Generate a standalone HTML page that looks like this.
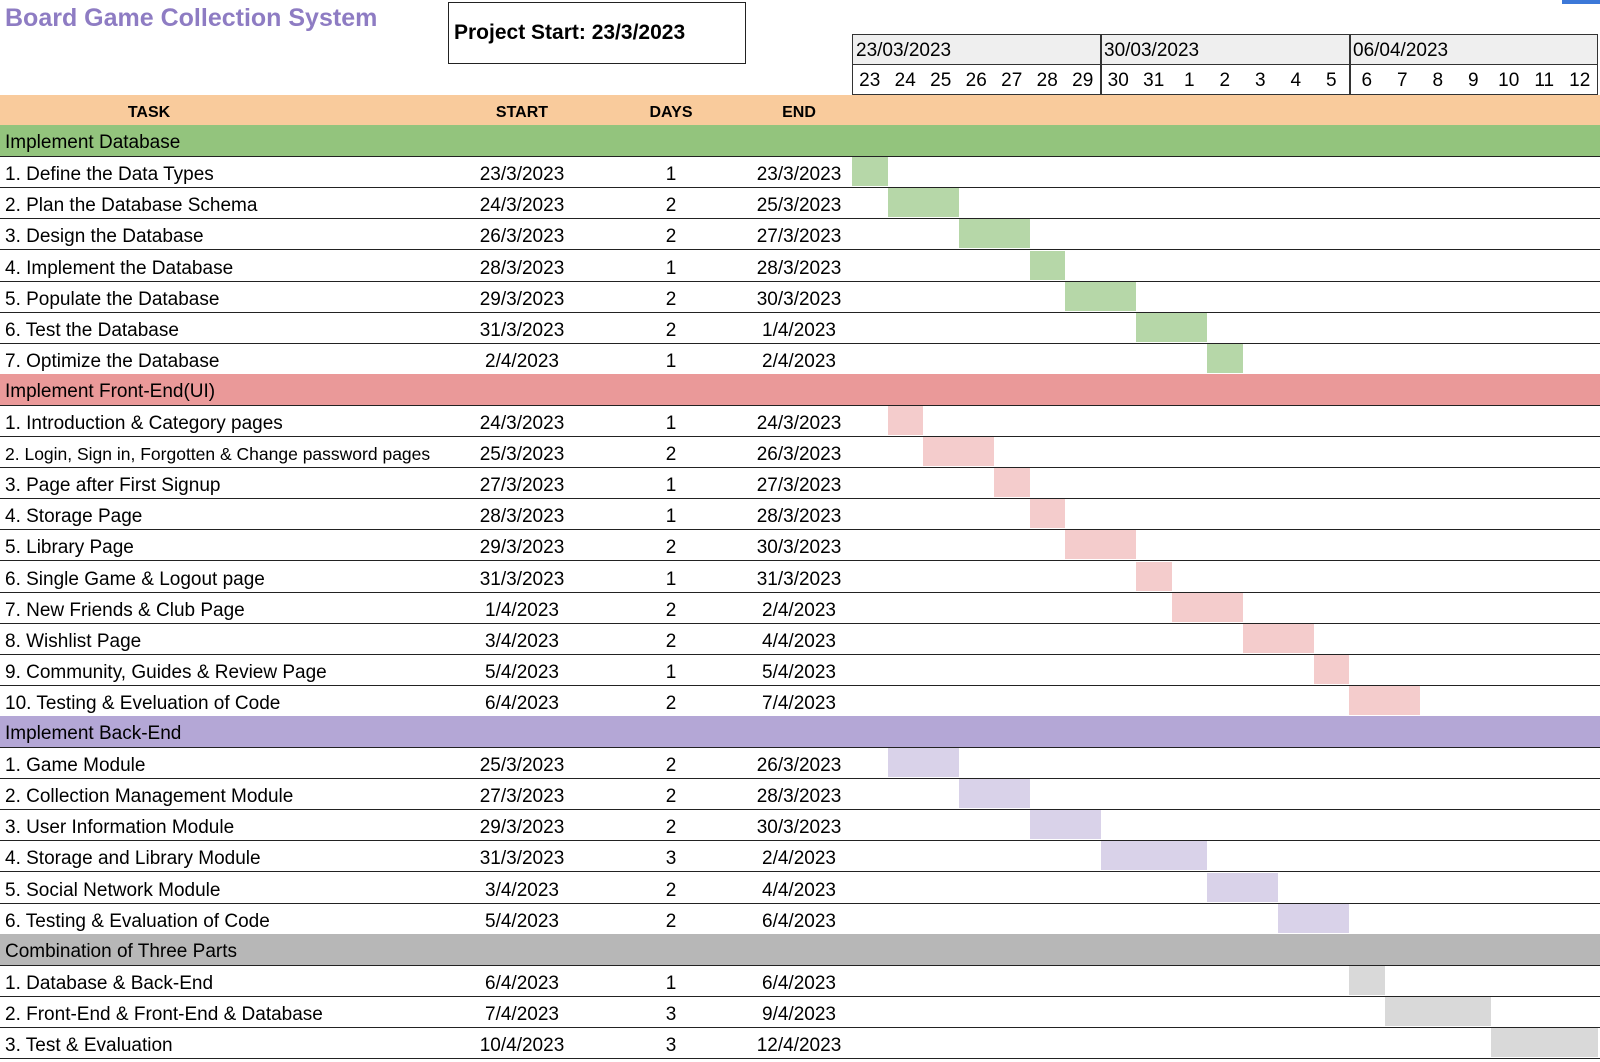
<!DOCTYPE html>
<html><head><meta charset="utf-8"><style>
body{margin:0;width:1600px;height:1062px;background:#fff;position:relative;overflow:hidden;font-family:"Liberation Sans",Arial,sans-serif;color:#000}
.a{position:absolute}
.row{position:absolute;left:0;width:1600px;height:31px;border-bottom:1.5px solid #222;box-sizing:border-box}
.t{position:absolute;top:2px;line-height:31px;font-size:19px;white-space:nowrap}
.c{text-align:center;width:160px}
.bar{position:absolute;top:0;height:29px}
.dn{position:absolute;height:30px;line-height:30px;font-size:19px;text-align:center;width:35.5px}
</style></head><body>
<div class="a" style="left:5px;top:4px;font-size:25px;font-weight:bold;color:#8e7cc3">Board Game Collection System</div>
<div class="a" style="left:448px;top:2px;width:298px;height:62px;border:1.5px solid #222;box-sizing:border-box;font-size:21px;font-weight:bold;line-height:60px;padding-left:5px">Project Start: 23/3/2023</div>
<div class="a" style="left:1562px;top:0;width:38px;height:4px;background:#3c78d8"></div>
<div class="a" style="left:852px;top:34px;width:746px;height:61px;border:1.5px solid #333;box-sizing:border-box"></div>
<div class="a" style="left:853px;top:35px;width:744px;height:29px;background:#efefef;border-bottom:1.5px solid #333"></div>
<div class="a" style="left:1100px;top:34px;width:1.5px;height:61px;background:#333"></div>
<div class="a" style="left:1349px;top:34px;width:1.5px;height:61px;background:#333"></div>
<div class="a" style="left:856px;top:37px;line-height:28px;font-size:19px">23/03/2023</div>
<div class="a" style="left:1104px;top:37px;line-height:28px;font-size:19px">30/03/2023</div>
<div class="a" style="left:1353px;top:37px;line-height:28px;font-size:19px">06/04/2023</div>
<div id="days"></div>
<div id="rows"></div>
<script>
var d=[23,24,25,26,27,28,29,30,31,1,2,3,4,5,6,7,8,9,10,11,12],h='';
d.forEach(function(v,i){h+='<div class="dn" style="left:'+(852+i*35.5)+'px;top:66px">'+v+'</div>';});
document.getElementById('days').innerHTML=h;
var S=[
["Implement Database","#93c47d","#b6d7a8",[
["1. Define the Data Types","23/3/2023",1,"23/3/2023",0],
["2. Plan the Database Schema","24/3/2023",2,"25/3/2023",1],
["3. Design the Database","26/3/2023",2,"27/3/2023",3],
["4. Implement the Database","28/3/2023",1,"28/3/2023",5],
["5. Populate the Database","29/3/2023",2,"30/3/2023",6],
["6. Test the Database","31/3/2023",2,"1/4/2023",8],
["7. Optimize the Database","2/4/2023",1,"2/4/2023",10]]],
["Implement Front-End(UI)","#ea9999","#f4cccc",[
["1. Introduction &amp; Category pages","24/3/2023",1,"24/3/2023",1],
["2. Login, Sign in, Forgotten &amp; Change password pages","25/3/2023",2,"26/3/2023",2],
["3. Page after First Signup","27/3/2023",1,"27/3/2023",4],
["4. Storage Page","28/3/2023",1,"28/3/2023",5],
["5. Library Page","29/3/2023",2,"30/3/2023",6],
["6. Single Game &amp; Logout page","31/3/2023",1,"31/3/2023",8],
["7. New Friends &amp; Club Page","1/4/2023",2,"2/4/2023",9],
["8. Wishlist Page","3/4/2023",2,"4/4/2023",11],
["9. Community, Guides &amp; Review Page","5/4/2023",1,"5/4/2023",13],
["10. Testing &amp; Eveluation of Code","6/4/2023",2,"7/4/2023",14]]],
["Implement Back-End","#b4a7d6","#d9d2e9",[
["1. Game Module","25/3/2023",2,"26/3/2023",1],
["2. Collection Management Module","27/3/2023",2,"28/3/2023",3],
["3. User Information Module","29/3/2023",2,"30/3/2023",5],
["4. Storage and Library Module","31/3/2023",3,"2/4/2023",7],
["5. Social Network Module","3/4/2023",2,"4/4/2023",10],
["6. Testing &amp; Evaluation of Code","5/4/2023",2,"6/4/2023",12]]],
["Combination of Three Parts","#b7b7b7","#d9d9d9",[
["1. Database &amp; Back-End","6/4/2023",1,"6/4/2023",14],
["2. Front-End &amp; Front-End &amp; Database","7/4/2023",3,"9/4/2023",15],
["3. Test &amp; Evaluation","10/4/2023",3,"12/4/2023",18]]]];
var P=31.1,y=95,o='';
o+='<div class="row" style="top:95px;background:#f9cb9c;border:none;height:31px"><div class="t" style="left:69px;width:160px;text-align:center;font-weight:bold;font-size:16px">TASK</div><div class="t c" style="left:442px;font-weight:bold;font-size:16px">START</div><div class="t c" style="left:591px;font-weight:bold;font-size:16px">DAYS</div><div class="t c" style="left:719px;font-weight:bold;font-size:16px">END</div></div>';
y+=P;
S.forEach(function(s){
 o+='<div class="row" style="top:'+(y-1)+'px;height:32px;background:'+s[1]+'"><div class="t" style="left:5px;top:2px">'+s[0]+'</div></div>';y+=P;
 s[3].forEach(function(r){
  var f=r[0].length>45?'font-size:17.5px;':'';
  o+='<div class="row" style="top:'+y+'px"><div class="bar" style="left:'+(852+r[4]*35.5)+'px;width:'+(r[2]*35.5)+'px;background:'+s[2]+'"></div><div class="t" style="left:5px;'+f+'">'+r[0]+'</div><div class="t c" style="left:442px">'+r[1]+'</div><div class="t c" style="left:591px">'+r[2]+'</div><div class="t c" style="left:719px">'+r[3]+'</div></div>';
  y+=P;});
});
document.getElementById('rows').innerHTML=o;
</script>
</body></html>
